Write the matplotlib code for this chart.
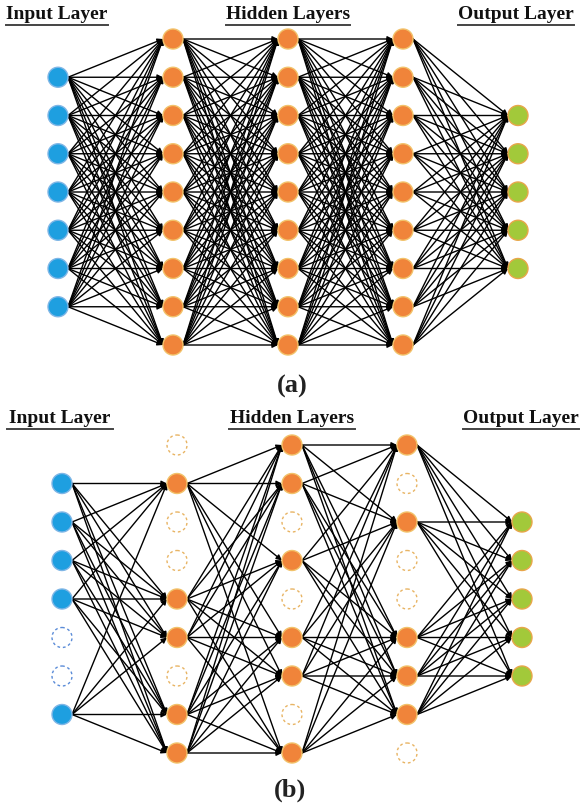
import numpy as np
import matplotlib.pyplot as plt
from matplotlib.patches import Circle

# Estrutura da rede: número de neurônios por camada
tamanhos = [7, 9, 9, 9, 5]

# Máscaras de dropout do painel (b): 1 = ativo, 0 = removido
mask_entrada = [1, 1, 1, 1, 0, 0, 1]
mask_oculta1 = [0, 1, 0, 0, 1, 1, 0, 1, 1]
mask_oculta2 = [1, 1, 0, 1, 0, 1, 1, 0, 1]
mask_oculta3 = [1, 0, 1, 0, 0, 1, 1, 1, 0]
mask_saida = [1, 1, 1, 1, 1]
mascaras_b = [mask_entrada, mask_oculta1, mask_oculta2, mask_oculta3, mask_saida]
mascaras_a = [[1] * n for n in tamanhos]

titulos = ['Input Layer', 'Hidden Layers', 'Output Layer']

# Cores
cor_face = ['#1e9fe0', '#f0843a', '#f0843a', '#f0843a', '#a2c93a']
cor_borda = ['#7fb6e6', '#f2c26a', '#f2c26a', '#f2c26a', '#e8a64a']
cor_trac = ['#5b8cd8', '#e8b464', '#e8b464', '#e8b464', '#e8b464']

R = 10
DX = 115


def desenha_rede(ax, x0, yc, dy, mascaras):
    xs = [x0 + i * DX for i in range(len(tamanhos))]
    ys = [yc + (np.arange(n) - (n - 1) / 2) * dy for n in tamanhos]
    # conexões entre neurônios ativos
    for l in range(len(tamanhos) - 1):
        for i, y1 in enumerate(ys[l]):
            if not mascaras[l][i]:
                continue
            for j, y2 in enumerate(ys[l + 1]):
                if not mascaras[l + 1][j]:
                    continue
                ax.annotate('', xy=(xs[l + 1] - R, y2), xytext=(xs[l] + R, y1),
                            arrowprops=dict(arrowstyle='-|>', color='black', lw=1.0,
                                            mutation_scale=8, shrinkA=0, shrinkB=0),
                            zorder=2)
    # neurônios
    for l in range(len(tamanhos)):
        for i, y in enumerate(ys[l]):
            if mascaras[l][i]:
                ax.add_patch(Circle((xs[l], y), R, facecolor=cor_face[l],
                                    edgecolor=cor_borda[l], lw=1, zorder=3))
            else:
                ax.add_patch(Circle((xs[l], y), R, facecolor='white',
                                    edgecolor=cor_trac[l], lw=1,
                                    linestyle=(0, (2, 2)), zorder=3))


def desenha_titulos(ax, y, xs_centro, largs):
    for t, xc, w in zip(titulos, xs_centro, largs):
        ax.text(xc, y, t, ha='center', va='baseline', fontsize=14,
                fontweight='bold', family='Liberation Serif', color='#111111')
        ax.plot([xc - w / 2, xc + w / 2], [y + 6, y + 6], color='#444444', lw=1.4)


fig = plt.figure(figsize=(5.8, 8.07), dpi=100)
ax = fig.add_axes([0, 0, 1, 1])
ax.set_xlim(0, 580)
ax.set_ylim(807, 0)
ax.set_aspect('equal')
ax.axis('off')

# painel (a)
desenha_titulos(ax, 19, [57, 288, 516], [102, 124, 116])
desenha_rede(ax, 58, 192, 38.25, mascaras_a)
ax.text(292, 393, '(a)', ha='center', va='baseline', fontsize=19,
        fontweight='bold', family='Liberation Serif', color='#222222')

# painel (b)
desenha_titulos(ax, 423, [60, 292, 521], [106, 126, 116])
desenha_rede(ax, 62, 599, 38.5, mascaras_b)
ax.text(290, 797, '(b)', ha='center', va='baseline', fontsize=19,
        fontweight='bold', family='Liberation Serif', color='#222222')

fig.savefig('out.png', dpi=100)
